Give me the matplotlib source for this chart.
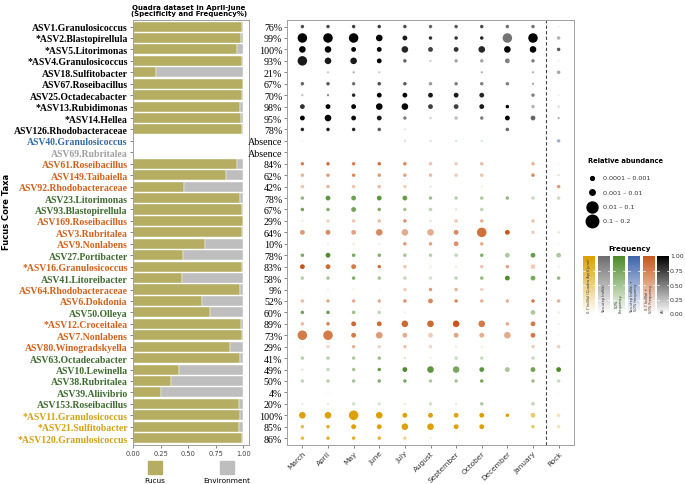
import numpy as np
import matplotlib.pyplot as plt
from matplotlib.colors import LinearSegmentedColormap, to_rgb

# ---- data -------------------------------------------------------------
taxa = ["ASV1.Granulosicoccus", "*ASV2.Blastopirellula", "*ASV5.Litorimonas",
        "*ASV4.Granulosicoccus", "ASV18.Sulfitobacter", "ASV67.Roseibacillus",
        "ASV25.Octadecabacter", "*ASV13.Rubidimonas", "*ASV14.Hellea",
        "ASV126.Rhodobacteraceae", "ASV40.Granulosicoccus", "ASV69.Rubritalea",
        "ASV61.Roseibacillus", "ASV149.Taibaiella", "ASV92.Rhodobacteraceae",
        "ASV23.Litorimonas", "ASV93.Blastopirellula", "ASV169.Roseibacillus",
        "ASV3.Rubritalea", "ASV9.Nonlabens", "ASV27.Portibacter",
        "*ASV16.Granulosicoccus", "ASV41.Litoreibacter", "ASV64.Rhodobacteraceae",
        "ASV6.Dokdonia", "ASV50.Olleya", "*ASV12.Croceitalea", "ASV7.Nonlabens",
        "ASV80.Winogradskyella", "ASV63.Octadecabacter", "ASV10.Lewinella",
        "ASV38.Rubritalea", "ASV39.Aliivibrio", "ASV153.Roseibacillus",
        "*ASV11.Granulosicoccus", "*ASV21.Sulfitobacter", "*ASV120.Granulosicoccus"]

groups = ["all"] * 10 + ["twostep50", "twostep"] + \
    ["ind50", "ind50", "ind50", "f50", "f50", "ind50", "ind50", "ind50", "f50",
     "ind50", "f50", "ind50", "ind50", "f50", "ind50", "ind50", "ind50", "f50",
     "f50", "f50", "f50", "f50"] + ["ind07"] * 3

fucus_frac = [0.99, 0.98, 0.94, 0.99, 0.21, 1.00, 0.99, 0.97, 0.975, 0.985,
              None, None, 0.94, 0.84, 0.46, 0.97, 0.985, 1.00, 0.99, 0.65,
              0.455, 0.99, 0.44, 0.97, 0.625, 0.70, 0.975, 0.99, 0.88, 0.97,
              0.41, 0.345, 0.25, 0.955, 0.97, 0.96, 0.99]

freq_labels = ["76%", "99%", "100%", "93%", "21%", "67%", "70%", "98%", "95%",
               "78%", "Absence", "Absence", "84%", "62%", "42%", "78%", "67%",
               "29%", "64%", "10%", "78%", "83%", "58%", "9%", "52%", "60%",
               "89%", "73%", "29%", "41%", "49%", "50%", "4%", "20%", "100%",
               "85%", "86%"]

months = ["March", "April", "May", "June", "July", "August", "September",
          "October", "December", "January", "Rock"]

# relative abundance class per sample (0 absent, 1 <0.0001, 2 0.0001-0.001,
# 3 0.001-0.01, 4 0.01-0.1, 5 0.1-0.2)
abund_cls = [
    [2, 2, 2, 2, 2, 2, 2, 2, 2, 2, 1],
    [5, 5, 5, 4, 3, 2, 2, 2, 5, 5, 2],
    [4, 4, 3, 3, 4, 3, 3, 4, 4, 4, 2],
    [5, 4, 4, 3, 2, 1, 2, 2, 3, 2, 1],
    [0, 1, 1, 1, 0, 0, 0, 1, 0, 1, 2],
    [2, 2, 2, 2, 2, 2, 2, 2, 2, 1, 0],
    [1, 1, 2, 3, 3, 3, 3, 3, 0, 2, 1],
    [3, 3, 3, 4, 4, 3, 3, 3, 2, 2, 1],
    [3, 4, 3, 3, 2, 1, 2, 2, 3, 3, 1],
    [2, 2, 2, 2, 1, 0, 0, 0, 2, 0, 0],
    [1, 0, 0, 0, 1, 1, 1, 1, 0, 0, 2],
    [0, 0, 0, 0, 0, 0, 0, 0, 0, 0, 0],
    [2, 2, 2, 2, 2, 2, 2, 2, 0, 2, 1],
    [2, 2, 2, 2, 2, 2, 2, 2, 0, 2, 1],
    [2, 2, 2, 2, 2, 1, 0, 1, 0, 0, 2],
    [2, 3, 3, 3, 3, 2, 2, 2, 2, 2, 2],
    [2, 2, 3, 2, 2, 2, 1, 2, 0, 0, 0],
    [1, 2, 2, 2, 2, 1, 2, 2, 0, 2, 0],
    [3, 3, 3, 4, 4, 4, 3, 5, 3, 2, 1],
    [0, 1, 1, 1, 2, 2, 3, 2, 0, 0, 1],
    [2, 3, 2, 2, 2, 2, 2, 2, 3, 3, 3],
    [3, 3, 3, 2, 2, 1, 1, 2, 2, 3, 1],
    [2, 2, 2, 2, 2, 2, 2, 2, 3, 3, 2],
    [1, 1, 1, 1, 2, 2, 2, 2, 0, 0, 0],
    [2, 2, 2, 2, 2, 3, 2, 2, 2, 2, 2],
    [2, 2, 2, 2, 1, 0, 0, 0, 0, 3, 1],
    [2, 2, 3, 3, 4, 4, 4, 4, 2, 3, 1],
    [5, 5, 3, 4, 3, 3, 3, 3, 4, 3, 1],
    [1, 2, 2, 2, 2, 2, 1, 1, 0, 2, 2],
    [2, 2, 2, 2, 1, 1, 2, 2, 0, 2, 0],
    [1, 2, 2, 2, 3, 4, 4, 3, 3, 3, 3],
    [2, 2, 2, 2, 2, 2, 2, 2, 0, 2, 2],
    [0, 1, 0, 0, 0, 0, 0, 0, 0, 0, 1],
    [1, 1, 2, 2, 1, 2, 1, 2, 0, 2, 0],
    [4, 4, 5, 4, 3, 3, 3, 3, 2, 3, 2],
    [2, 2, 3, 3, 4, 4, 3, 3, 0, 2, 2],
    [2, 2, 2, 2, 2, 1, 1, 0, 0, 0, 0],
]

# frequency of detection per sample (0-1)
freq = [
    [0.7, 0.7, 0.75, 0.75, 0.7, 0.6, 0.65, 0.7, 0.55, 0.55, 0.05],
    [1, 1, 1, 1, 0.9, 0.8, 0.8, 0.85, 0.55, 1, 0.3],
    [1, 1, 1, 1, 0.85, 0.75, 0.8, 0.85, 1, 1, 0.65],
    [0.9, 0.9, 0.9, 1, 0.6, 0.2, 0.35, 0.35, 0.5, 0.5, 0.05],
    [0, 0.2, 0.3, 0.2, 0, 0, 0, 0.3, 0, 0.3, 0.35],
    [0.6, 0.65, 0.55, 0.7, 0.65, 0.4, 0.5, 0.5, 0.5, 0.35, 0],
    [0.25, 0.45, 0.85, 1, 1, 0.9, 0.9, 0.85, 0, 0.5, 0.05],
    [0.8, 1, 1, 1, 1, 0.75, 0.75, 0.9, 1, 0.3, 0.15],
    [1, 1, 0.95, 0.9, 0.5, 0.2, 0.25, 0.5, 1, 0.6, 0.3],
    [0.85, 0.9, 0.85, 0.65, 0.1, 0, 0, 0, 0.6, 0, 0],
    [0.05, 0, 0, 0, 0.2, 0.2, 0.2, 0.2, 0, 0, 0.5],
    [0, 0, 0, 0, 0, 0, 0, 0, 0, 0, 0],
    [0.75, 0.85, 0.75, 0.85, 0.7, 0.35, 0.3, 0.4, 0, 0.45, 0.05],
    [0.45, 0.6, 0.7, 0.6, 0.55, 0.4, 0.3, 0.35, 0, 0.7, 0.2],
    [0.35, 0.45, 0.35, 0.4, 0.3, 0.2, 0, 0.15, 0, 0, 0.6],
    [0.6, 0.9, 0.8, 0.9, 0.85, 0.55, 0.4, 0.45, 0.6, 0.3, 0.3],
    [0.8, 0.7, 0.8, 0.7, 0.5, 0.35, 0.2, 0.35, 0, 0, 0],
    [0.15, 0.25, 0.35, 0.4, 0.65, 0.2, 0.35, 0.45, 0, 0.35, 0],
    [0.6, 0.7, 0.55, 0.7, 0.5, 0.5, 0.7, 0.85, 1, 0.3, 0.2],
    [0, 0.1, 0.15, 0.1, 0.6, 0.55, 0.65, 0.5, 0, 0, 0.05],
    [0.75, 1, 0.75, 0.7, 0.5, 0.4, 0.35, 0.7, 0.45, 0.85, 0.45],
    [1, 0.9, 0.8, 0.85, 0.35, 0.15, 0.15, 0.35, 0.55, 0.3, 0.1],
    [0.4, 0.5, 0.7, 0.5, 0.35, 0.25, 0.35, 0.6, 1, 0.75, 0.6],
    [0.05, 0.1, 0.1, 0.05, 0.3, 0.6, 0.45, 0.25, 0, 0, 0],
    [0.4, 0.5, 0.5, 0.5, 0.65, 0.7, 0.7, 0.45, 0.45, 0.8, 0.45],
    [0.8, 0.85, 0.55, 0.35, 0.1, 0, 0, 0, 0, 0.45, 0.15],
    [0.4, 0.75, 0.9, 0.9, 0.9, 0.9, 1, 0.8, 0.5, 0.8, 0.1],
    [0.8, 0.8, 0.8, 0.6, 0.5, 0.3, 0.55, 0.5, 0.5, 0.8, 0.05],
    [0.1, 0.25, 0.45, 0.25, 0.35, 0.25, 0.15, 0.15, 0, 0.3, 0.3],
    [0.4, 0.4, 0.45, 0.55, 0.2, 0.1, 0.3, 0.3, 0, 0.3, 0],
    [0.2, 0.3, 0.5, 0.85, 1, 0.9, 0.75, 0.9, 0.5, 0.8, 1],
    [0.35, 0.4, 0.5, 0.7, 0.75, 0.45, 0.5, 0.75, 0, 0.55, 0.3],
    [0, 0.05, 0, 0, 0, 0, 0, 0, 0, 0, 0.03],
    [0.15, 0.15, 0.25, 0.2, 0.15, 0.25, 0.15, 0.45, 0, 0.35, 0],
    [1, 1, 1, 1, 1, 1, 0.95, 1, 1, 0.55, 0.3],
    [0.7, 0.85, 1, 1, 1, 1, 1, 1, 0, 0.6, 0.3],
    [0.7, 0.85, 0.85, 0.8, 0.45, 0.15, 0.05, 0, 0, 0, 0],
]

size_legend = ["0.0001 \u2013 0.001", "0.001 \u2013 0.01", "0.01 \u2013 0.1", "0.1 \u2013 0.2"]
freq_groups = ["ind07", "twostep", "f50", "twostep50", "ind50", "all"]
freq_group_names = ["0.7 IndVal (Quadra April-June)", "Two-step IndVal",
                    "50%\nFrequency", "Two-step IndVal +\n50% frequency",
                    "0.7 IndVal +\n50% Frequency", "All"]

# ---- styles -----------------------------------------------------------
dot_col = {"all": "#000000", "twostep": "#6E6E6E", "f50": "#4C8A2B",
           "twostep50": "#3E63AE", "ind50": "#C9571A", "ind07": "#DCA000"}
lab_col = {"all": "#000000", "twostep": "#A0A0A0", "f50": "#3D6B2E",
           "twostep50": "#2F6BA8", "ind50": "#D2601A", "ind07": "#D4A017"}
dia_px = {1: 2.3, 2: 3.5, 3: 4.8, 4: 6.6, 5: 9.5}
OLIVE = "#B5AD62"
ENV = "#BEBEBE"
SPINE = "#A0A0A0"

W, H = 685, 485
fig = plt.figure(figsize=(W / 100, H / 100), dpi=100)


def box(x0, y0, x1, y1):
    return [x0 / W, 1 - y1 / H, (x1 - x0) / W, (y1 - y0) / H]


n = len(taxa)
ypos = np.arange(n)
serif = "Liberation Serif"

# ---- bar panel --------------------------------------------------------
axb = fig.add_axes(box(132.7, 20.7, 249, 446))
for i, f in enumerate(fucus_frac):
    if f is None:
        continue
    axb.barh(i, f, height=0.88, color=OLIVE, edgecolor="white", linewidth=0.3)
    axb.barh(i, 1 - f, left=f, height=0.88, color=ENV, edgecolor="white", linewidth=0.3)
axb.set_ylim(n - 0.4, -0.6)
axb.set_xlim(-0.006, 1.05)
axb.set_yticks(ypos)
axb.set_yticklabels(taxa, fontfamily=serif, fontweight="bold", fontsize=7.0)
for t, g in zip(axb.get_yticklabels(), groups):
    t.set_color(lab_col[g])
axb.set_xticks([0, 0.25, 0.5, 0.75, 1.0])
axb.set_xticklabels(["0.00", "0.25", "0.50", "0.75", "1.00"], fontsize=4.8, color="#444444")
axb.tick_params(length=2, width=0.5, color="#555555", pad=1.5)
for s in axb.spines.values():
    s.set_color(SPINE)
    s.set_linewidth(0.7)
fig.text(189 / W, 1 - 11 / H, "Quadra dataset in April-June\n(Specificity and Frequency%)",
         ha="center", va="center", fontsize=5.0, fontweight="bold", linespacing=1.15)
fig.text(7 / W, 1 - 212 / H, "Fucus Core Taxa", rotation=90, ha="center", va="center",
         fontsize=6, fontweight="bold")

# bar legend
for cx, col, lab in [(155, OLIVE, "Fucus"), (227, ENV, "Environment")]:
    fig.patches.append(plt.Rectangle(((cx - 7) / W, 1 - 475 / H), 14 / W, 13 / H,
                                     transform=fig.transFigure, color=col))
    fig.text(cx / W, 1 - 481 / H, lab, ha="center", va="center", fontsize=5.3)

# ---- bubble panel -----------------------------------------------------
axd = fig.add_axes(box(287, 20.7, 574, 446))
xs, ys, ss, cs = [], [], [], []
for i in range(n):
    base = np.array(to_rgb(dot_col[groups[i]]))
    for j in range(len(months)):
        c = abund_cls[i][j]
        if c == 0:
            continue
        fr = freq[i][j]
        xs.append(j)
        ys.append(i)
        ss.append((dia_px[c] * 0.72) ** 2)
        cs.append(1 - fr * (1 - base))
axd.scatter(xs, ys, s=ss, c=cs, linewidths=0)
axd.axvline(9.5, color="#444444", lw=0.8, ls=(0, (3, 2)))
axd.set_xlim(-0.6, 10.6)
axd.set_ylim(n - 0.4, -0.6)
axd.set_yticks(ypos)
axd.set_yticklabels(freq_labels, fontfamily=serif, fontsize=7.2)
axd.set_xticks(range(len(months)))
axd.set_xticklabels(months, rotation=45, ha="right", rotation_mode="anchor", fontsize=5.3,
                    color="#333333")
axd.tick_params(length=2, width=0.5, color="#555555", pad=1.5)
for s in axd.spines.values():
    s.set_color(SPINE)
    s.set_linewidth(0.7)

# size legend
fig.text(588 / W, 1 - 161 / H, "Relative abundance", fontsize=4.9, fontweight="bold",
         va="center")
leg_d = [3.8, 5.5, 11, 12.5]
for k, (lab, d) in enumerate(zip(size_legend, leg_d)):
    yy = 1 - (179 + k * 14.3) / H
    fig.add_artist(plt.Line2D([591.5 / W], [yy], marker="o", markersize=d * 0.72,
                              color="black", lw=0, transform=fig.transFigure))
    fig.text(603 / W, yy, lab, fontsize=4.6, va="center", color="#333333")

# frequency colorbars
fig.text(630 / W, 1 - 249 / H, "Frequency", fontsize=5.2, fontweight="bold",
         ha="center", va="center")
grad = np.linspace(0, 1, 100).reshape(-1, 1)
x0s = [583, 598, 613, 628, 643, 657]
for x0, g, name in zip(x0s, freq_groups, freq_group_names):
    cax = fig.add_axes(box(x0, 257, x0 + 12, 315))
    cmap = LinearSegmentedColormap.from_list(g, ["white", dot_col[g]])
    cax.imshow(grad, cmap=cmap, aspect="auto", origin="lower", extent=(0, 1, 0, 1))
    for yt in [0.25, 0.5, 0.75]:
        cax.plot([0, 0.15], [yt, yt], color="white", lw=0.5)
        cax.plot([0.85, 1], [yt, yt], color="white", lw=0.5)
    cax.text(0.5, 0.03, name, rotation=90, ha="center", va="bottom", fontsize=2.6,
             color="#333333", linespacing=1.0)
    cax.set_xlim(0, 1)
    cax.set_ylim(0, 1)
    cax.axis("off")
for v in [0, 0.25, 0.5, 0.75, 1.0]:
    fig.text(670 / W, 1 - (315 - v * 58) / H, f"{v:.2f}", fontsize=4.5, va="center",
             color="#333333")

fig.savefig("out.png", dpi=100)
